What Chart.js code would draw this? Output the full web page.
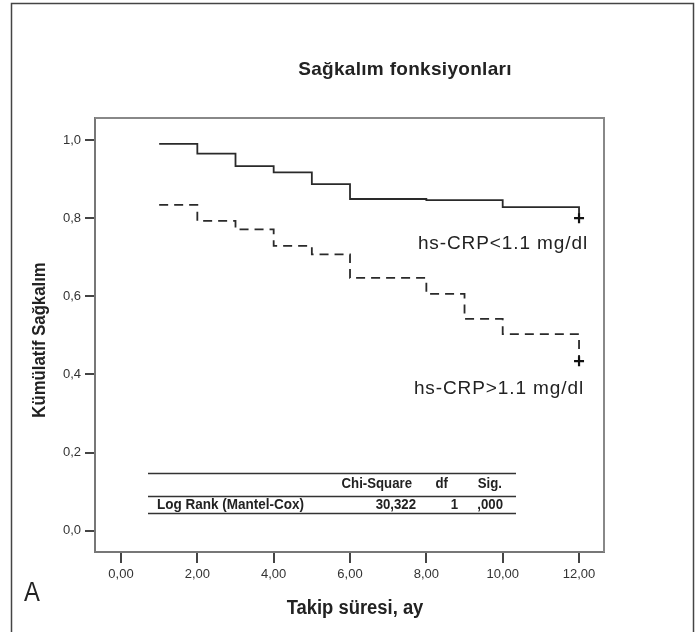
<!DOCTYPE html>
<html>
<head>
<meta charset="utf-8">
<script src="https://cdn.jsdelivr.net/npm/chart.js@4.4.0/dist/chart.umd.min.js"></script>
<style>
    body { margin: 0; background: #fff; }
    #wrap { width: 700px; height: 632px; }
</style>
</head>
<body>
<div id="wrap"><canvas id="kmChart" width="700" height="632"></canvas></div>
<script>
const lowTimes = [1, 2, 3, 4, 5, 6, 8, 10, 12];
const lowSurv = [0.990, 0.965, 0.933, 0.917, 0.887, 0.849, 0.846, 0.828, 0.800];
const highTimes = [1, 2, 3, 4, 5, 6, 8, 9, 10, 12];
const highSurv = [0.834, 0.793, 0.771, 0.729, 0.707, 0.647, 0.606, 0.542, 0.503, 0.434];

const xTicks = [0, 2, 4, 6, 8, 10, 12];
const yTicks = [0, 0.2, 0.4, 0.6, 0.8, 1.0];

const seriesLabels = ['hs-CRP<1.1 mg/dl', 'hs-CRP>1.1 mg/dl'];
const tableHeader = ['Chi-Square', 'df', 'Sig.'];
const tableRow = ['Log Rank (Mantel-Cox)', '30,322', '1', ',000'];

const SANS = "'Liberation Sans', Arial, sans-serif";

function toPoints(xs, ys) {
    return xs.map((x, i) => ({ x: x, y: ys[i] }));
}

// censor mark only on the last point
function lastOnly(arr, val) {
    return arr.map((_, i) => i === arr.length - 1 ? val : 0);
}

// no narrow font installed, so squeeze the regular one
function narrowText(ctx, text, x, y, font, sx, align) {
    ctx.save();
    ctx.font = font;
    ctx.textAlign = align || 'left';
    ctx.translate(x, y);
    ctx.scale(sx, 1);
    ctx.fillText(text, 0, 0);
    ctx.restore();
}

const decorations = {
    id: 'decorations',
    afterDraw(chart) {
        const ctx = chart.ctx;
        const area = chart.chartArea;
        const xs = chart.scales.x;
        const ys = chart.scales.y;
        ctx.save();

        // outer figure frame
        ctx.strokeStyle = '#444';
        ctx.lineWidth = 1.5;
        ctx.strokeRect(11.5, 3.5, 682, 700);

        // top + right of the plot box
        ctx.strokeStyle = '#888';
        ctx.lineWidth = 2;
        ctx.beginPath();
        ctx.moveTo(area.left, area.top);
        ctx.lineTo(area.right, area.top);
        ctx.lineTo(area.right, area.bottom);
        ctx.stroke();

        ctx.fillStyle = '#222';
        ctx.textBaseline = 'middle';

        ctx.font = 'bold 19px ' + SANS;
        ctx.letterSpacing = '0.3px';
        ctx.textAlign = 'center';
        ctx.fillText('Sağkalım fonksiyonları', 405, 70);
        ctx.letterSpacing = '0px';

        narrowText(ctx, 'Takip süresi, ay', 355, 608, 'bold 20px ' + SANS, 0.92, 'center');

        ctx.save();
        ctx.translate(40, 340);
        ctx.rotate(-Math.PI / 2);
        narrowText(ctx, 'Kümülatif Sağkalım', 0, 0, 'bold 18px ' + SANS, 0.93, 'center');
        ctx.restore();

        narrowText(ctx, 'A', 24, 593, '28px ' + SANS, 0.85, 'left');

        // curve labels, anchored to the end of each curve
        ctx.font = '19px ' + SANS;
        ctx.letterSpacing = '0.9px';
        ctx.textAlign = 'right';
        const xEnd = xs.getPixelForValue(12) + 9;
        ctx.fillText(seriesLabels[0], xEnd, ys.getPixelForValue(lowSurv[lowSurv.length - 1]) + 26);
        ctx.fillText(seriesLabels[1], xEnd - 4, ys.getPixelForValue(highSurv[highSurv.length - 1]) + 28);
        ctx.letterSpacing = '0px';

        // log rank table
        ctx.strokeStyle = '#333';
        ctx.lineWidth = 1.5;
        [473.5, 496.5, 513.5].forEach(y => {
            ctx.beginPath();
            ctx.moveTo(148, y);
            ctx.lineTo(516, y);
            ctx.stroke();
        });
        const tf = 'bold 15px ' + SANS;
        narrowText(ctx, tableHeader[0], 412, 484, tf, 0.88, 'right');
        narrowText(ctx, tableHeader[1], 448, 484, tf, 0.88, 'right');
        narrowText(ctx, tableHeader[2], 502, 484, tf, 0.88, 'right');
        narrowText(ctx, tableRow[0], 157, 505, tf, 0.9, 'left');
        narrowText(ctx, tableRow[1], 416, 505, tf, 0.88, 'right');
        narrowText(ctx, tableRow[2], 458, 505, tf, 0.88, 'right');
        narrowText(ctx, tableRow[3], 503, 505, tf, 0.88, 'right');

        ctx.restore();
    }
};

const lineColor = '#2a2a2a';

new Chart(document.getElementById('kmChart'), {
    type: 'line',
    data: {
        datasets: [
            {
                label: seriesLabels[0],
                data: toPoints(lowTimes, lowSurv),
                stepped: 'before',
                borderColor: lineColor,
                borderWidth: 1.8,
                fill: false,
                pointStyle: 'cross',
                pointRadius: lastOnly(lowTimes, 5),
                pointBorderWidth: 2.2,
                pointBorderColor: '#111'
            },
            {
                label: seriesLabels[1],
                data: toPoints(highTimes, highSurv),
                stepped: 'before',
                borderColor: lineColor,
                borderWidth: 1.8,
                borderDash: [9, 6],
                fill: false,
                pointStyle: 'cross',
                pointRadius: lastOnly(highTimes, 5),
                pointBorderWidth: 2.2,
                pointBorderColor: '#111'
            }
        ]
    },
    options: {
        responsive: false,
        animation: false,
        layout: { padding: { top: 118, right: 96, left: 0, bottom: 0 } },
        plugins: {
            legend: { display: false },
            tooltip: { enabled: false },
            title: { display: false }
        },
        scales: {
            x: {
                type: 'linear',
                min: -0.681,
                max: 12.654,
                afterBuildTicks: s => { s.ticks = xTicks.map(v => ({ value: v })); },
                afterFit: s => { s.height = 80; },
                grid: { drawOnChartArea: false, drawTicks: true, tickLength: 11, color: '#444', lineWidth: 2 },
                border: { display: true, color: '#777', width: 2 },
                ticks: {
                    color: '#333',
                    padding: 4,
                    maxRotation: 0,
                    autoSkip: false,
                    font: { family: SANS, size: 13 },
                    callback: v => v.toFixed(2).replace('.', ',')
                }
            },
            y: {
                type: 'linear',
                min: -0.0545,
                max: 1.0563,
                afterBuildTicks: s => { s.ticks = yTicks.map(v => ({ value: v })); },
                afterFit: s => { s.width = 95; },
                grid: { drawOnChartArea: false, drawTicks: true, tickLength: 10, color: '#444', lineWidth: 2 },
                border: { display: true, color: '#777', width: 2 },
                ticks: {
                    color: '#333',
                    padding: 4,
                    autoSkip: false,
                    font: { family: SANS, size: 13 },
                    callback: v => v.toFixed(1).replace('.', ',')
                }
            }
        }
    },
    plugins: [decorations]
});
</script>
</body>
</html>
